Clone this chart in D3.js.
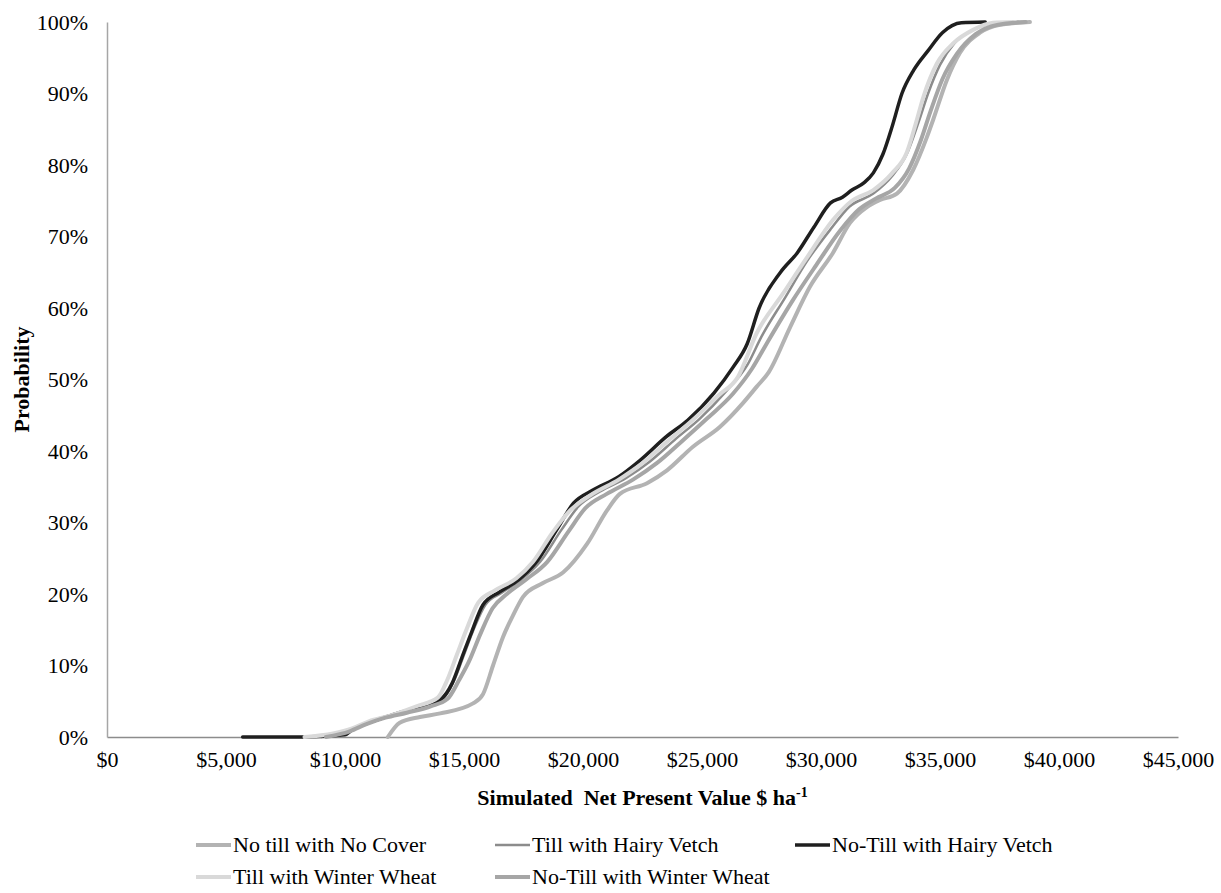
<!DOCTYPE html>
<html>
<head>
<meta charset="utf-8">
<script src="https://cdn.jsdelivr.net/npm/d3@7.9.0/dist/d3.min.js"></script>
<style>
  html, body { margin: 0; padding: 0; background: #fff; }
  svg text { font-family: "Liberation Serif", "Times New Roman", serif; fill: #000; }
</style>
</head>
<body>
<svg id="chart" width="1221" height="893"></svg>
<script>
// series names (legend order)
const seriesNames = [
  'No till with No Cover',
  'Till with Hairy Vetch',
  'No-Till with Hairy Vetch',
  'Till with Winter Wheat',
  'No-Till with Winter Wheat'
];

// cumulative curves: [net present value $/ha, probability]
const noTillNoCover = [
  [11800, 0], [12300, 0.02], [13150, 0.028], [14000, 0.033], [15380, 0.047], [15800, 0.06],
  [16220, 0.10], [16640, 0.14], [17060, 0.17], [17480, 0.196], [18300, 0.215], [19160, 0.23],
  [20170, 0.27], [21010, 0.317], [21550, 0.34], [22690, 0.355], [23530, 0.373], [24620, 0.406],
  [25760, 0.434], [26720, 0.467], [27300, 0.49], [27800, 0.51], [28700, 0.573], [29540, 0.63],
  [30500, 0.677], [31220, 0.719], [31930, 0.741], [32480, 0.751], [33190, 0.76], [33870, 0.793],
  [34450, 0.839], [34710, 0.863], [35290, 0.919], [35840, 0.957], [36680, 0.985], [37520, 0.996],
  [38780, 1]
];
const tillHairyVetch = [
  [9000, 0], [10000, 0.008], [10600, 0.016], [11300, 0.025], [12200, 0.032], [13200, 0.042],
  [14100, 0.053], [14600, 0.08], [15000, 0.115], [15400, 0.15], [15900, 0.185], [16600, 0.202],
  [17400, 0.22], [18200, 0.245], [19100, 0.29], [19800, 0.322], [20700, 0.343], [21800, 0.362],
  [22800, 0.385], [23900, 0.417], [24900, 0.445], [26000, 0.483], [26900, 0.52], [27500, 0.56],
  [28500, 0.615], [29400, 0.665], [30400, 0.71], [31200, 0.742], [32200, 0.76], [33000, 0.785],
  [33600, 0.815], [34100, 0.86], [34500, 0.90], [35000, 0.94], [35600, 0.97], [36400, 0.989],
  [37300, 0.999], [38300, 1]
];
const noTillHairyVetch = [
  [5700, 0], [8300, 0], [10000, 0.003], [10300, 0.01], [11000, 0.02], [11900, 0.03],
  [13100, 0.042], [14000, 0.052], [14500, 0.075], [14900, 0.11], [15300, 0.145], [15800, 0.185],
  [16500, 0.203], [17300, 0.22], [18000, 0.243], [18900, 0.29], [19600, 0.327], [20400, 0.345],
  [21500, 0.364], [22400, 0.387], [23500, 0.42], [24400, 0.443], [25500, 0.481], [26300, 0.517],
  [26900, 0.55], [27400, 0.60], [28300, 0.65], [29000, 0.677], [29700, 0.713], [30400, 0.747],
  [30900, 0.755], [31300, 0.765], [31800, 0.775], [32200, 0.789], [32600, 0.815], [33000, 0.855],
  [33400, 0.90], [33900, 0.933], [34500, 0.96], [35100, 0.985], [35900, 0.999], [36900, 1]
];
const tillWinterWheat = [
  [8300, 0], [9500, 0.005], [10300, 0.012], [11000, 0.022], [11900, 0.03], [13000, 0.043],
  [13900, 0.055], [14300, 0.08], [14700, 0.115], [15100, 0.15], [15600, 0.188], [16300, 0.205],
  [17200, 0.222], [17900, 0.245], [18700, 0.285], [19400, 0.315], [20300, 0.338], [21500, 0.36],
  [22500, 0.383], [23600, 0.415], [24600, 0.443], [25700, 0.478], [26500, 0.503], [27300, 0.565],
  [28400, 0.62], [29400, 0.67], [30500, 0.723], [31300, 0.75], [32200, 0.765], [33000, 0.789],
  [33600, 0.817], [34000, 0.86], [34300, 0.895], [34870, 0.942], [35550, 0.97], [36390, 0.989],
  [37230, 0.999], [38070, 1]
];
const noTillWinterWheat = [
  [9200, 0], [10200, 0.008], [10900, 0.018], [11700, 0.027], [12600, 0.034], [13600, 0.043],
  [14300, 0.053], [14800, 0.08], [15200, 0.105], [15700, 0.145], [16200, 0.18], [16800, 0.20],
  [17600, 0.22], [18500, 0.245], [19400, 0.288], [20100, 0.32], [21000, 0.34], [22100, 0.36],
  [23100, 0.383], [24100, 0.412], [25200, 0.445], [26300, 0.48], [27100, 0.515], [27800, 0.555],
  [28800, 0.61], [29800, 0.66], [30800, 0.708], [31600, 0.738], [32300, 0.753], [33100, 0.768],
  [33700, 0.795], [34200, 0.835], [34600, 0.875], [35100, 0.92], [35700, 0.955], [36500, 0.983],
  [37400, 0.996], [38600, 1]
];

const xTicks = [0, 5000, 10000, 15000, 20000, 25000, 30000, 35000, 40000, 45000];
const yTicks = [0, 0.1, 0.2, 0.3, 0.4, 0.5, 0.6, 0.7, 0.8, 0.9, 1];

const allSeries = [noTillNoCover, tillHairyVetch, noTillHairyVetch, tillWinterWheat, noTillWinterWheat];
const strokes = ['#b3b3b3', '#8c8c8c', '#1f1f1f', '#d9d9d9', '#a6a6a6'];
const widths  = [4, 2.5, 3.5, 4, 4];

const svg = d3.select('#chart');
const plot = { left: 107, right: 1178, top: 22, bottom: 737 };

const x = d3.scaleLinear().domain([0, 45000]).range([plot.left, plot.right]);
const y = d3.scaleLinear().domain([0, 1]).range([plot.bottom, plot.top]);

// axes (no tick marks, just the line and labels)
const xAxis = svg.append('g')
  .attr('transform', `translate(0,${plot.bottom})`)
  .call(d3.axisBottom(x).tickValues(xTicks).tickSize(0).tickPadding(14).tickFormat(d3.format('$,')));
const yAxis = svg.append('g')
  .attr('transform', `translate(${plot.left},0)`)
  .call(d3.axisLeft(y).tickValues(yTicks).tickSize(0).tickPadding(19).tickFormat(d3.format('.0%')));

xAxis.select('.domain').attr('stroke', '#8c8c8c').attr('stroke-width', 1.5);
yAxis.select('.domain').attr('stroke', '#a6a6a6').attr('stroke-width', 1.5);
[xAxis, yAxis].forEach(g => g.selectAll('text').attr('font-size', 22));

// curves
const line = d3.line()
  .x(d => x(d[0]))
  .y(d => y(d[1]))
  .curve(d3.curveMonotoneX);

svg.append('g')
  .selectAll('path')
  .data(allSeries)
  .join('path')
    .attr('d', line)
    .attr('fill', 'none')
    .attr('stroke', (d, i) => strokes[i])
    .attr('stroke-width', (d, i) => widths[i])
    .attr('stroke-linejoin', 'round')
    .attr('stroke-linecap', 'round');

// axis titles
const xTitle = svg.append('text')
  .attr('x', (plot.left + plot.right) / 2)
  .attr('y', 805)
  .attr('text-anchor', 'middle')
  .attr('font-size', 22)
  .attr('font-weight', 'bold');
xTitle.append('tspan').text('Simulated\u00a0 Net Present Value $ ha');
xTitle.append('tspan').attr('dy', -8).attr('font-size', 14).text('-1');

svg.append('text')
  .attr('transform', `translate(29,${(plot.top + plot.bottom) / 2}) rotate(-90)`)
  .attr('text-anchor', 'middle')
  .attr('font-size', 22)
  .attr('font-weight', 'bold')
  .text('Probability');

// legend: 3 columns, 2 rows
const legendPos = [[196, 845], [495, 845], [795, 845], [196, 877], [495, 877]];
const legend = svg.append('g')
  .selectAll('g')
  .data(seriesNames)
  .join('g')
    .attr('transform', (d, i) => `translate(${legendPos[i][0]},${legendPos[i][1]})`);

legend.append('line')
  .attr('x1', 0).attr('x2', 35)
  .attr('stroke', (d, i) => strokes[i])
  .attr('stroke-width', (d, i) => widths[i]);

legend.append('text')
  .attr('x', 37)
  .attr('dy', '0.34em')
  .attr('font-size', 22)
  .text(d => d);
</script>
</body>
</html>
